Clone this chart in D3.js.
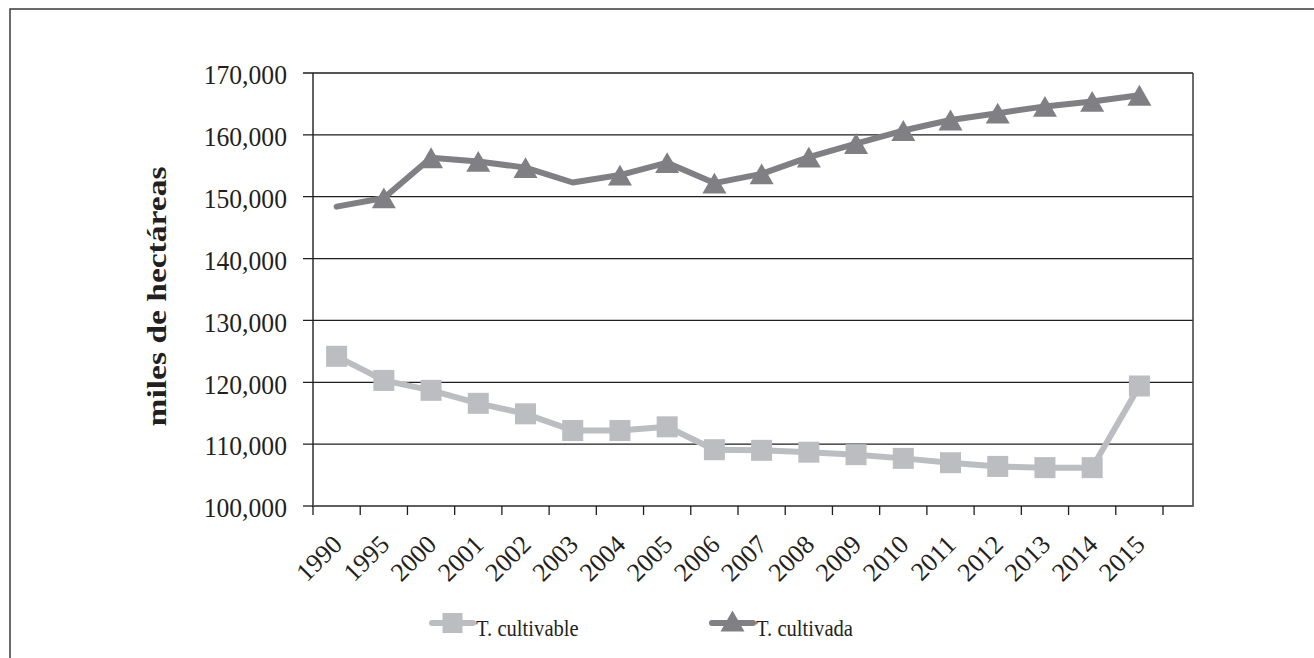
<!DOCTYPE html>
<html>
<head>
<meta charset="utf-8">
<script src="https://cdn.jsdelivr.net/npm/d3@7/dist/d3.min.js"></script>
<style>
  html, body { margin: 0; padding: 0; background: #fff; }
  svg { display: block; }
  text { font-family: "Liberation Serif", "Times New Roman", serif; fill: #231f20; }
</style>
</head>
<body>
<svg id="chart" width="1314" height="658"></svg>
<script>
// Superficie agrícola (miles de hectáreas)
const years = ["1990", "1995", "2000", "2001", "2002", "2003", "2004", "2005", "2006",
               "2007", "2008", "2009", "2010", "2011", "2012", "2013", "2014", "2015"];
const cultivable = [124200, 120300, 118700, 116600, 114900, 112200, 112200, 112800, 109100,
                    109000, 108700, 108300, 107700, 107000, 106400, 106200, 106200, 119400];
const cultivada  = [148400, 149800, 156300, 155700, 154700, 152300, 153500, 155500, 152200,
                    153700, 156400, 158600, 160700, 162400, 163500, 164600, 165400, 166400];
// años sin marcador en la serie de tierra cultivada
const cultivadaSinMarcador = ["1990", "2003"];
const yTicks = [100000, 110000, 120000, 130000, 140000, 150000, 160000, 170000];
const seriesNames = ["T. cultivable", "T. cultivada"];
const yTitle = "miles de hectáreas";

const svg = d3.select("#chart");
const W = 1314, H = 658;
const plot = { left: 313, top: 73, bottom: 506, right: 1193, catEnd: 1163 };

const colLight = "#bcbdc1";
const colDark = "#808084";

// marco exterior
svg.append("path")
  .attr("d", `M10,${H + 5}V9H${W + 5}`)
  .attr("fill", "none").attr("stroke", "#3a3a3a").attr("stroke-width", 1.5);

const x = d3.scaleBand().domain(years).range([plot.left, plot.catEnd]).padding(0);
const y = d3.scaleLinear().domain([100000, 170000]).range([plot.bottom, plot.top]);
const cx = d => x(d) + x.bandwidth() / 2;

// líneas de cuadrícula horizontales y marcas del eje Y
const grid = svg.append("g");
grid.selectAll("line.g").data(yTicks.filter(t => t > 100000)).join("line")
  .attr("x1", plot.left - 10).attr("x2", plot.right)
  .attr("y1", d => y(d)).attr("y2", d => y(d))
  .attr("stroke", "#1e1e1e").attr("stroke-width", 1.3);
grid.append("line")
  .attr("x1", plot.left - 10).attr("x2", plot.left)
  .attr("y1", y(100000)).attr("y2", y(100000))
  .attr("stroke", "#1e1e1e").attr("stroke-width", 1.3);

// borde derecho del área de trazado
svg.append("line")
  .attr("x1", plot.right).attr("x2", plot.right)
  .attr("y1", plot.top).attr("y2", plot.bottom)
  .attr("stroke", "#3a3a3a").attr("stroke-width", 1.5);

// eje Y
svg.append("line")
  .attr("x1", plot.left).attr("x2", plot.left)
  .attr("y1", plot.top).attr("y2", plot.bottom + 1)
  .attr("stroke", "#1e1e1e").attr("stroke-width", 1.4);

// eje X
svg.append("line")
  .attr("x1", plot.left).attr("x2", plot.right + 0.75)
  .attr("y1", plot.bottom).attr("y2", plot.bottom)
  .attr("stroke", "#5e5e5e").attr("stroke-width", 2);
const edges = years.map(d => x(d) + x.bandwidth()).concat([x(years[0])]);
svg.append("g").selectAll("line").data(edges).join("line")
  .attr("x1", d => d).attr("x2", d => d)
  .attr("y1", plot.bottom).attr("y2", plot.bottom + 9)
  .attr("stroke", "#1e1e1e").attr("stroke-width", 1.3);

// etiquetas del eje Y
const fmt = d3.format(",");
svg.append("g").selectAll("text").data(yTicks).join("text")
  .attr("transform", d => `translate(287,${y(d)}) scale(0.95,1)`)
  .attr("text-anchor", "end").attr("dy", "0.42em")
  .style("font-size", "27px")
  .text(d => fmt(d));

// etiquetas del eje X (giradas)
svg.append("g").selectAll("text").data(years).join("text")
  .attr("transform", d => `translate(${cx(d) + 7},${plot.bottom + 40}) rotate(-45)`)
  .attr("text-anchor", "end")
  .style("font-size", "26px")
  .text(d => d);

// título del eje Y
svg.append("text")
  .attr("transform", `translate(166,${(plot.top + plot.bottom) / 2 + 7}) rotate(-90) scale(1,0.8)`)
  .attr("text-anchor", "middle")
  .style("font-size", "33.5px").style("font-weight", "bold")
  .text(yTitle);

const line = d3.line().x((d, i) => cx(years[i])).y(d => y(d));

// serie: tierra cultivable
svg.append("path").datum(cultivable)
  .attr("d", line).attr("fill", "none")
  .attr("stroke", colLight).attr("stroke-width", 6)
  .attr("stroke-linejoin", "round").attr("stroke-linecap", "round");
const sq = 21;
svg.append("g").selectAll("rect").data(cultivable).join("rect")
  .attr("x", (d, i) => cx(years[i]) - sq / 2)
  .attr("y", d => y(d) - sq / 2)
  .attr("width", sq).attr("height", sq)
  .attr("fill", colLight);

// serie: tierra cultivada
svg.append("path").datum(cultivada)
  .attr("d", line).attr("fill", "none")
  .attr("stroke", colDark).attr("stroke-width", 6)
  .attr("stroke-linejoin", "round").attr("stroke-linecap", "round");
const triSize = 250;
const triH = Math.sqrt(triSize * 4 / Math.sqrt(3)) * Math.sqrt(3) / 2;
const tri = d3.symbol().type(d3.symbolTriangle).size(triSize);
svg.append("g").selectAll("path")
  .data(cultivada.map((v, i) => ({ v, yr: years[i] })).filter(d => !cultivadaSinMarcador.includes(d.yr)))
  .join("path")
  .attr("d", tri)
  .attr("transform", d => `translate(${cx(d.yr)},${y(d.v) + triH / 6})`)
  .attr("fill", colDark);

// leyenda
const legend = [
  { name: seriesNames[0], color: colLight, x0: 432, x1: 473, mark: "square" },
  { name: seriesNames[1], color: colDark, x0: 712, x1: 753, mark: "triangle" }
];
const ly = 623;
const lg = svg.append("g").selectAll("g").data(legend).join("g");
lg.append("line")
  .attr("x1", d => d.x0).attr("x2", d => d.x1)
  .attr("y1", ly).attr("y2", ly)
  .attr("stroke", d => d.color).attr("stroke-width", 6).attr("stroke-linecap", "round");
lg.filter(d => d.mark === "square").append("rect")
  .attr("x", d => (d.x0 + d.x1) / 2 - 10).attr("y", ly - 10)
  .attr("width", 20).attr("height", 20).attr("fill", d => d.color);
lg.filter(d => d.mark === "triangle").append("path")
  .attr("d", tri)
  .attr("transform", d => `translate(${(d.x0 + d.x1) / 2},${ly - 2 + triH / 6})`)
  .attr("fill", d => d.color);
lg.append("text")
  .attr("transform", d => `translate(${d.x1 + 3},${ly + 13}) scale(0.86,1)`)
  .style("font-size", "24px")
  .text(d => d.name);
</script>
</body>
</html>
